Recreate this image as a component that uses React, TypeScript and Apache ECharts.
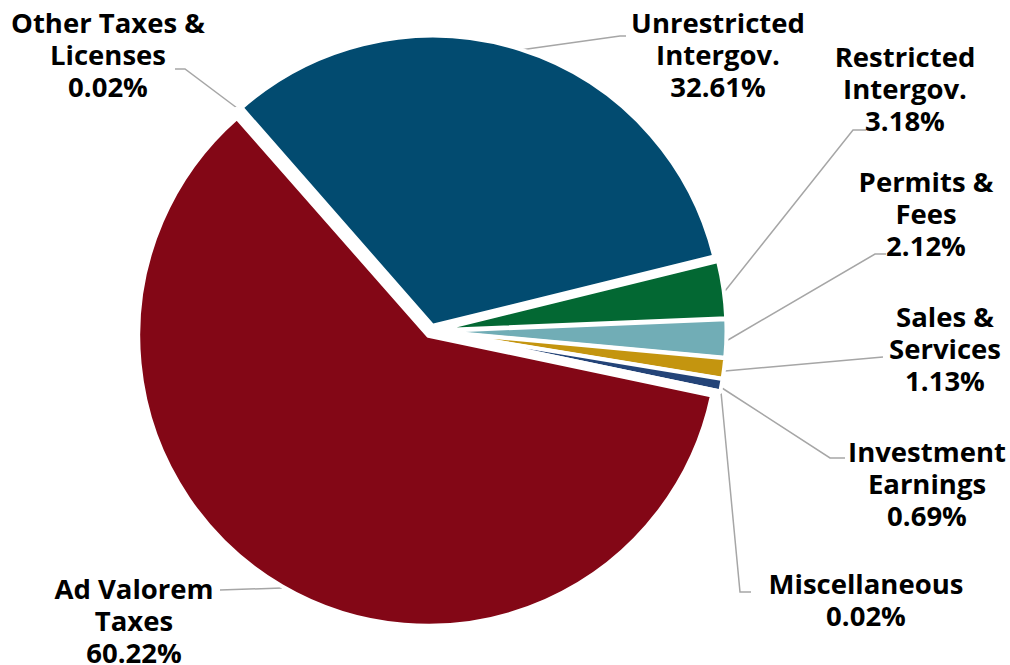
import React, { useEffect, useRef } from 'react';
import * as echarts from 'echarts';

const categories = [
  'Other Taxes & Licenses',
  'Unrestricted Intergov.',
  'Restricted Intergov.',
  'Permits & Fees',
  'Sales & Services',
  'Investment Earnings',
  'Miscellaneous',
  'Ad Valorem Taxes',
];
const labelTexts = [
  'Other Taxes &\nLicenses',
  'Unrestricted\nIntergov.',
  'Restricted\nIntergov.',
  'Permits &\nFees',
  'Sales &\nServices',
  'Investment\nEarnings',
  'Miscellaneous',
  'Ad Valorem\nTaxes',
];
const shares = [0.02, 32.61, 3.18, 2.12, 1.13, 0.69, 0.02, 60.22];
const colors = ['#7F7F7F', '#024B70', '#036833', '#71ADB6', '#C4950F', '#244478', '#A5A5A5', '#830716'];

// label placement (layout, not data)
const labelAnchors: number[][] = [
  [108, 54], [718, 54], [905, 88], [926, 213], [945, 348], [927, 483], [866, 599], [134, 620],
];
const leaderLines: number[][][] = [
  [[237, 108], [185, 69], [175, 69]],
  [[520, 50], [620, 36], [626, 36]],
  [[725, 291], [853, 130], [866, 130]],
  [[728, 340], [875, 254], [886, 254]],
  [[725, 371], [883, 357]],
  [[722, 388], [830, 458], [845, 458]],
  [[721, 392], [740, 592], [751, 592]],
  [[282, 588], [220, 590]],
];

const CX = 431;
const CY = 331;
const R = 290;
const START = 131.3;
const EXPLODE = 5.5;

export default function App() {
  const ref = useRef<HTMLDivElement>(null);
  useEffect(() => {
    if (!ref.current) return;
    const chart = echarts.init(ref.current, null, { renderer: 'svg' });
    const total = shares.reduce((a, b) => a + b, 0);
    let acc = 0;
    const series = categories.map((_, k) => {
      const startFrac = acc / total;
      acc += shares[k];
      const midDeg = START - (startFrac + shares[k] / total / 2) * 360;
      const rad = (midDeg * Math.PI) / 180;
      const cx = CX + EXPLODE * Math.cos(rad);
      const cy = CY - EXPLODE * Math.sin(rad);
      return {
        type: 'pie',
        name: categories[k],
        center: [cx, cy],
        radius: R,
        startAngle: START,
        clockwise: true,
        avoidLabelOverlap: false,
        silent: true,
        z: k === 7 ? 1 : 2,
        emphasis: { disabled: true },
        label: {
          show: false,
          position: 'outside',
          color: '#000000',
          fontFamily: '"Open Sans", sans-serif',
          fontWeight: 700,
          fontSize: 27.5,
          lineHeight: 32,
          formatter: (p: any) => `${labelTexts[p.dataIndex]}\n${Number(p.value).toFixed(2)}%`,
        },
        labelLine: {
          show: false,
          lineStyle: { color: '#A6A6A6', width: 1.5 },
        },
        labelLayout: (params: any) => {
          const i = params.dataIndex;
          if (i !== k) return {};
          return {
            x: labelAnchors[i][0],
            y: labelAnchors[i][1],
            align: 'center',
            verticalAlign: 'middle',
            labelLinePoints: leaderLines[i],
          };
        },
        data: categories.map((name, i) => ({
          name,
          value: shares[i],
          itemStyle:
            i === k
              ? { color: colors[i], borderColor: '#ffffff', borderWidth: 4 }
              : { color: 'rgba(0,0,0,0)', borderWidth: 0 },
          label: { show: i === k },
          labelLine: { show: i === k },
        })),
      };
    });
    chart.setOption({
      animation: false,
      backgroundColor: '#ffffff',
      series,
    });
    return () => chart.dispose();
  }, []);
  return (
    <div
      ref={ref}
      style={{ position: 'fixed', left: 0, top: 0, width: 1010, height: 665 }}
    />
  );
}
